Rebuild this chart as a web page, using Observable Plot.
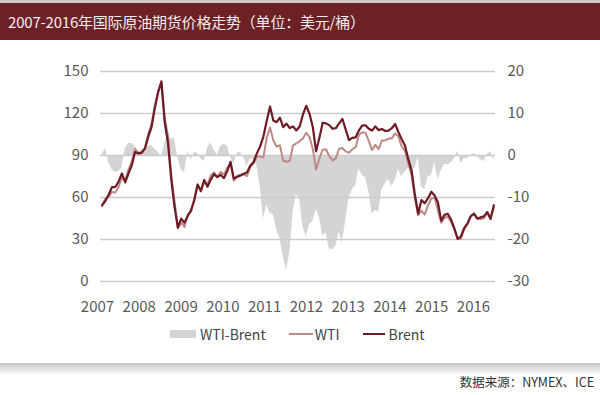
<!DOCTYPE html>
<html><head><meta charset="utf-8">
<script src="https://cdn.jsdelivr.net/npm/d3@7"></script>
<script src="https://cdn.jsdelivr.net/npm/@observablehq/plot@0.6"></script>
<style>
body{margin:0;width:600px;height:395px;background:#fff;font-family:"Noto Sans CJK SC","Noto Sans",sans-serif;position:relative;overflow:hidden}
#topline{position:absolute;left:0;top:0;width:600px;height:3px;background:#d3cbc3}
#title{position:absolute;left:0;top:3px;width:600px;height:37px;background:#6b2126;color:#f6ecec;font-size:15px;letter-spacing:-0.2px;line-height:37px;padding-left:8px;box-sizing:border-box;white-space:nowrap}
#chart{position:absolute;left:0;top:45px}
#legend{position:absolute;top:325px;left:170px;height:18px;display:flex;align-items:center;font-size:14px;color:#444;white-space:nowrap}
#shadow{position:absolute;left:0;top:363px;width:600px;height:12px;background:linear-gradient(#c6c6c6,#ffffff)}
#source{position:absolute;right:6px;top:372px;font-size:12.5px;color:#333;white-space:nowrap}
</style></head>
<body>
<div id="topline"></div>
<div id="title">2007-2016年国际原油期货价格走势（单位：美元/桶）</div>
<div id="chart"></div>
<div id="legend"></div>
<div id="shadow"></div>
<div id="source">数据来源：NYMEX、ICE</div>
<script>
const startYear = 2007;
const yearLabels = ["2007","2008","2009","2010","2011","2012","2013","2014","2015","2016"];
const leftTicks = [0, 30, 60, 90, 120, 150];
const seriesNames = ["WTI-Brent", "WTI", "Brent"];
// monthly, Jan 2007 .. Dec 2016 (USD/bbl)
const wti = [
 54.5,59.3,60.4,64.0,63.5,67.5,74.1,72.4,79.9,85.8,94.8,91.7,
 93.0,95.4,105.5,112.6,125.4,136.0,142.0,116.7,104.1,76.6,57.3,38.0,
 42.0,39.0,47.9,49.7,59.0,69.6,64.2,71.1,69.4,75.7,78.0,74.5,
 78.3,76.4,81.2,84.3,72.0,75.3,76.3,76.6,75.2,81.9,84.3,89.2,
 89.2,88.6,102.9,110.0,100.9,96.3,97.3,86.3,85.5,86.3,97.2,98.6,
 100.3,102.2,106.2,103.3,94.7,80.0,87.9,94.1,94.5,89.5,86.5,87.9,
 94.8,95.3,92.9,92.0,94.5,95.8,104.7,106.6,106.3,100.5,93.9,97.6,
 94.6,100.8,100.8,102.1,102.2,105.8,103.6,96.5,93.2,84.4,75.8,59.3,
 47.2,50.6,47.8,54.5,59.3,59.8,50.9,42.0,45.5,46.2,42.4,37.2,
 30.5,30.3,37.6,40.8,46.7,48.8,44.7,44.7,45.2,49.8,45.7,52.5];
const brent = [
 54.3,57.6,62.1,67.4,67.5,71.3,77.2,70.8,77.1,82.9,92.5,91.5,
 91.9,94.8,103.3,110.2,123.9,135.0,143.0,113.9,99.1,72.8,53.2,38.5,
 44.9,42.0,46.8,50.9,58.2,69.1,64.8,72.5,67.7,72.8,76.7,74.5,
 76.2,73.8,78.8,85.5,73.5,74.8,75.6,77.0,77.8,82.7,85.3,91.5,
 96.5,103.7,114.6,125.0,115.0,113.8,117.0,110.2,112.8,109.6,110.8,107.9,
 110.7,119.3,125.5,119.8,110.3,93.0,102.6,113.4,112.9,111.7,109.1,109.5,
 113.0,116.1,108.5,101.0,102.6,102.9,107.9,111.3,111.6,109.1,107.8,110.8,
 108.1,108.9,107.5,107.8,109.5,112.5,106.8,101.6,97.1,87.4,79.4,62.3,
 48.5,58.1,55.9,59.5,64.1,61.5,56.6,43.5,47.6,48.4,44.3,38.0,
 30.5,32.2,38.2,41.6,46.7,48.3,45.0,45.8,46.6,49.5,44.7,54.5];
const spread = [
 0.2,1.7,-1.7,-3.4,-4.0,-3.8,-3.1,1.6,2.8,2.9,2.2,0.2,
 1.1,0.6,2.2,2.4,1.5,0.8,-0.5,2.8,5.0,3.8,4.1,-0.5,
 -3.2,-4.2,1.1,-1.2,0.8,0.5,-0.7,-1.5,1.8,3.0,1.3,0.0,
 2.2,2.6,2.4,-0.5,-2.2,0.6,0.7,-0.4,-2.6,-0.8,-1.0,-2.3,
 -7.4,-15.1,-11.8,-13.7,-14.1,-17.6,-19.7,-23.9,-27.3,-23.2,-13.6,-9.3,
 -10.4,-17.1,-19.3,-16.4,-15.7,-12.9,-14.7,-19.2,-18.4,-22.2,-22.5,-21.6,
 -18.2,-20.7,-15.5,-10.2,-8.1,-7.2,-3.3,-4.7,-5.3,-8.5,-13.9,-13.1,
 -13.5,-8.1,-6.7,-5.7,-7.4,-6.0,-3.2,-5.1,-3.9,-3.0,-3.6,-3.0,
 -0.5,-7.5,-8.1,-5.1,-4.8,-1.7,-5.7,-3.7,-2.1,-2.2,-1.8,-0.8,
 1.0,-1.9,-0.7,-0.8,0.0,0.5,-0.3,-1.1,-1.4,0.3,0.9,-1.3];

const colors = {spread:"#d4d4d4", wti:"#bd8a86", brent:"#6e1b25", grid:"#cbcbcb"};
const rows = wti.map((w, i) => ({t: startYear + (i + 0.5) / 12, wti: w, brent: brent[i], spread: spread[i]}));
// right axis (spread): 0 aligned with 90, 10 units = 30 units on the left axis
const toLeft = v => 90 + v * 3;
const fromLeft = v => (v - 90) / 3;
// the reference places its year labels slightly off the calendar grid
const tickPos = yearLabels.map((y, i) => 2006.924 + i * 1.0577);

const chart = Plot.plot({
  width: 600, height: 275,
  marginLeft: 100, marginRight: 105, marginTop: 26, marginBottom: 39,
  style: {fontFamily: '"Noto Sans CJK SC", sans-serif', fontSize: "15px", color: "#595959", background: "transparent"},
  x: {type: "linear", domain: [2007, 2017]},
  y: {domain: [0, 150]},
  marks: [
    Plot.areaY(rows, {x: "t", y1: () => 90, y2: d => toLeft(d.spread), fill: colors.spread, curve: "linear"}),
    Plot.ruleY(leftTicks, {stroke: colors.grid, strokeWidth: 1.3}),
    Plot.lineY(rows, {x: "t", y: "wti", stroke: colors.wti, strokeWidth: 2}),
    Plot.lineY(rows, {x: "t", y: "brent", stroke: colors.brent, strokeWidth: 2.2}),
    Plot.axisY(leftTicks, {anchor: "left", tickSize: 0, tickPadding: 12, label: null}),
    Plot.axisY(leftTicks, {anchor: "right", tickSize: 0, tickPadding: 12, tickFormat: d => String(fromLeft(d)), label: null}),
    Plot.axisX(tickPos, {anchor: "bottom", tickSize: 0, tickPadding: 20, tickFormat: d => yearLabels[tickPos.indexOf(d)], label: null})
  ]
});
document.getElementById("chart").appendChild(chart);

const legend = document.getElementById("legend");
const sw = [
  `<span style="display:inline-block;width:26px;height:8px;background:${colors.spread};margin-right:4px"></span>`,
  `<span style="display:inline-block;width:24px;height:2px;background:${colors.wti};margin-left:23px;margin-right:2px"></span>`,
  `<span style="display:inline-block;width:22px;height:2px;background:${colors.brent};margin-left:24px;margin-right:3px"></span>`
];
legend.innerHTML = seriesNames.map((n, i) => sw[i] + `<span>${n}</span>`).join("");
</script>
</body></html>
